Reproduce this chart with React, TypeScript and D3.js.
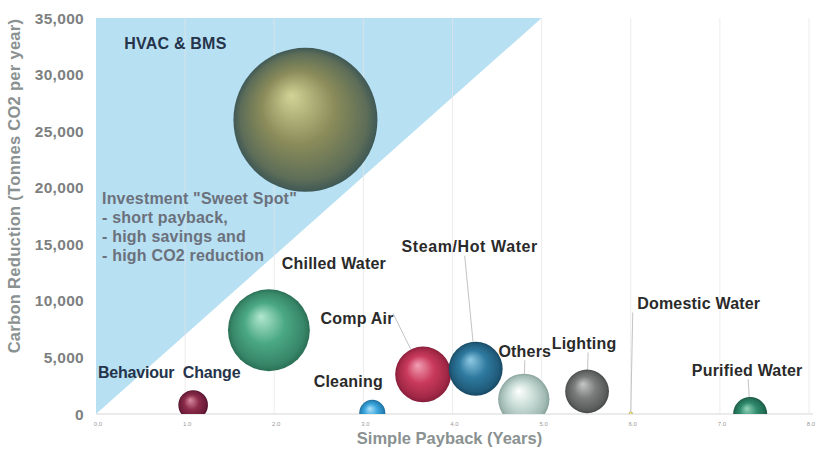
import React from "react";
import * as d3 from "d3";

// Energy-saving opportunities: payback vs. carbon reduction, bubble = annual savings
const categories = [
  "HVAC & BMS",
  "Chilled Water",
  "Behaviour Change",
  "Cleaning",
  "Comp Air",
  "Steam/Hot Water",
  "Others",
  "Lighting",
  "Domestic Water",
  "Purified Water",
];
const paybackYears = [2.35, 1.94, 1.09, 3.1, 3.67, 4.26, 4.8, 5.51, 6.0, 7.34];
const carbonReduction = [26000, 7400, 800, 100, 3500, 4000, 1300, 2000, 50, 0];
const bubbleSize = [520, 168, 22, 17, 78, 73, 66, 48, 0.4, 29];

const xTicks = [0, 1, 2, 3, 4, 5, 6, 7, 8];
const yTicks = [0, 5000, 10000, 15000, 20000, 25000, 30000, 35000];

// "Sweet spot" region: short payback, high reduction
const sweetSpotPayback = 5;
const sweetSpotNotes = [
  'Investment "Sweet Spot"',
  "- short payback,",
  "- high savings and",
  "- high CO2 reduction",
];

// sphere shading: [highlight, base, edge]
const sphereColors: Record<string, [string, string, string]> = {
  "HVAC & BMS": ["#d2d496", "#8b8c5a", "#3f5856"],
  "Chilled Water": ["#b2e8cf", "#4aa884", "#2a6f55"],
  "Behaviour Change": ["#d98ba2", "#8c2c4a", "#55132d"],
  Cleaning: ["#b0e2f8", "#3aa6de", "#1a6898"],
  "Comp Air": ["#f2a0b4", "#c9395c", "#861d38"],
  "Steam/Hot Water": ["#90cae4", "#2f7aa0", "#184863"],
  Others: ["#ffffff", "#c8dcd6", "#86a29a"],
  Lighting: ["#c6c8c8", "#7a7c7c", "#474949"],
  "Domestic Water": ["#f4efb0", "#d8d070", "#9a9440"],
  "Purified Water": ["#92d4ba", "#2f8a6c", "#1a5643"],
};

// label placement relative to bubble centre (text centre)
const labelOffsets: [number, number][] = [
  [-130, -76],
  [65, -67],
  [-24, -32],
  [-24, -31],
  [-66, -56],
  [-6, -122],
  [1, -48],
  [-3, -48],
  [68, -110],
  [-3, -44],
];
// leader line start relative to bubble centre (null = none)
const leaderFrom: ([number, number] | null)[] = [
  null,
  null,
  null,
  null,
  [-30, -61],
  [-11, -113],
  [1, -39],
  [1, -39],
  [2, -101],
  [-2, -35],
];

const W = 817;
const H = 451;
const left = 96;
const right = 809;
const top = 18;
const bottom = 414;

const FONT = "'Liberation Sans', Arial, Helvetica, sans-serif";

export default function App() {
  const x = d3.scaleLinear().domain([0, 8]).range([left, right]);
  const y = d3.scaleLinear().domain([0, 35000]).range([bottom, top]);
  const r = d3.scaleSqrt().domain([0, 520]).range([0, 72]);

  const triangle = d3.line<[number, number]>()
    .x((d) => x(d[0]))
    .y((d) => y(d[1]))([
    [0, 0],
    [0, 35000],
    [sweetSpotPayback, 35000],
  ]);

  const data = categories.map((name, i) => ({
    name,
    px: paybackYears[i],
    cy: carbonReduction[i],
    size: bubbleSize[i],
    i,
  }));
  // draw larger bubbles first, keep Steam/Hot Water above neighbours
  const drawOrder = [0, 1, 4, 6, 5, 7, 9, 2, 3, 8];

  const fmt = d3.format(",");
  const fmtX = d3.format(".1f");

  return (
    <div style={{ position: "absolute", left: 0, top: 0 }}>
      <svg width={W} height={H} style={{ display: "block", background: "#fff" }}>
        <defs>
          {data.map((d) => {
            const [hl, base, edge] = sphereColors[d.name];
            return (
              <radialGradient
                key={d.i}
                id={`sph${d.i}`}
                cx="0.5"
                cy="0.5"
                r="0.5"
                fx="0.4"
                fy="0.33"
              >
                <stop offset="0%" stopColor={hl} />
                <stop offset="50%" stopColor={base} />
                <stop offset="88%" stopColor={d3.interpolateRgb(base, edge)(0.6)} />
                <stop offset="100%" stopColor={edge} />
              </radialGradient>
            );
          })}
          <clipPath id="plotClip">
            <rect x={left} y={top - 80} width={W - left} height={bottom - top + 80} />
          </clipPath>
          <filter id="soft" x="-10%" y="-10%" width="120%" height="120%">
            <feGaussianBlur stdDeviation="0.6" />
          </filter>
        </defs>

        {/* sweet spot triangle */}
        <path d={triangle ?? ""} fill="#b7e0f2" />

        {/* vertical gridlines */}
        {xTicks.slice(1).map((t) => (
          <line
            key={t}
            x1={x(t)}
            x2={x(t)}
            y1={top}
            y2={bottom}
            stroke="#e4e4e4"
            strokeOpacity={0.7}
            strokeWidth={1}
          />
        ))}

        {/* x axis line */}
        <line x1={left} x2={W - 4} y1={bottom} y2={bottom} stroke="#d8d8d8" strokeWidth={1.2} />

        {/* leader lines */}
        {data.map((d) => {
          const from = leaderFrom[d.i];
          if (!from) return null;
          const cx = x(d.px);
          const cy = y(d.cy);
          const rad = r(d.size);
          const len = Math.hypot(from[0], from[1]);
          const ex = cx + (from[0] / len) * rad;
          const ey = cy + (from[1] / len) * rad;
          return (
            <line
              key={d.i}
              x1={cx + from[0]}
              y1={cy + from[1]}
              x2={ex}
              y2={ey}
              stroke="#c4c4c4"
              strokeWidth={1}
            />
          );
        })}

        {/* bubbles */}
        <g clipPath="url(#plotClip)" filter="url(#soft)">
          {drawOrder.map((i) => {
            const d = data[i];
            return (
              <circle
                key={i}
                cx={x(d.px)}
                cy={y(d.cy)}
                r={Math.max(r(d.size), 1.5)}
                fill={`url(#sph${i})`}
              />
            );
          })}
        </g>

        {/* bubble labels */}
        {data.map((d) => {
          const [dx, dy] = labelOffsets[d.i];
          return (
            <text
              key={d.i}
              x={x(d.px) + dx}
              y={y(d.cy) + dy}
              textAnchor="middle"
              dominantBaseline="central"
              fontFamily={FONT}
              fontWeight="bold"
              fontSize={16}
              fill={d.i === 0 || d.i === 2 ? "#25344a" : "#2a2a2a"}
              letterSpacing={d.i === 5 ? 0.6 : d.i === 2 ? -0.2 : 0.2}
            >
              {d.name === "Behaviour Change" ? "Behaviour\u00a0 Change" : d.name}
            </text>
          );
        })}

        {/* sweet spot notes */}
        {sweetSpotNotes.map((line, k) => (
          <text
            key={k}
            x={102}
            y={198 + k * 19}
            dominantBaseline="central"
            fontFamily={FONT}
            fontWeight="bold"
            fontSize={16}
            letterSpacing={0.2}
            fill="#6b717c"
          >
            {line}
          </text>
        ))}

        {/* y ticks */}
        {yTicks.map((t) => (
          <text
            key={t}
            x={84}
            y={y(t)}
            textAnchor="end"
            dominantBaseline="central"
            fontFamily={FONT}
            fontWeight="bold"
            fontSize={15.5}
            letterSpacing={0.3}
            fill="#7d7f80"
          >
            {fmt(t)}
          </text>
        ))}

        {/* x ticks */}
        {xTicks.map((t) => (
          <text
            key={t}
            x={x(t) + 2}
            y={bottom + 10}
            textAnchor="middle"
            dominantBaseline="central"
            fontFamily={FONT}
            fontSize={6}
            fill="#9a9a9a"
          >
            {fmtX(t)}
          </text>
        ))}

        {/* axis titles */}
        <text
          x={(left + right) / 2 - 3}
          y={438}
          textAnchor="middle"
          dominantBaseline="central"
          fontFamily={FONT}
          fontWeight="bold"
          fontSize={16.5}
          fill="#8a9191"
        >
          Simple Payback (Years)
        </text>
        <text
          transform={`translate(14, 186) rotate(-90)`}
          textAnchor="middle"
          dominantBaseline="central"
          fontFamily={FONT}
          fontWeight="bold"
          fontSize={16.5}
          letterSpacing={0.3}
          fill="#8a9191"
        >
          Carbon Reduction (Tonnes CO2 per year)
        </text>
      </svg>
    </div>
  );
}
